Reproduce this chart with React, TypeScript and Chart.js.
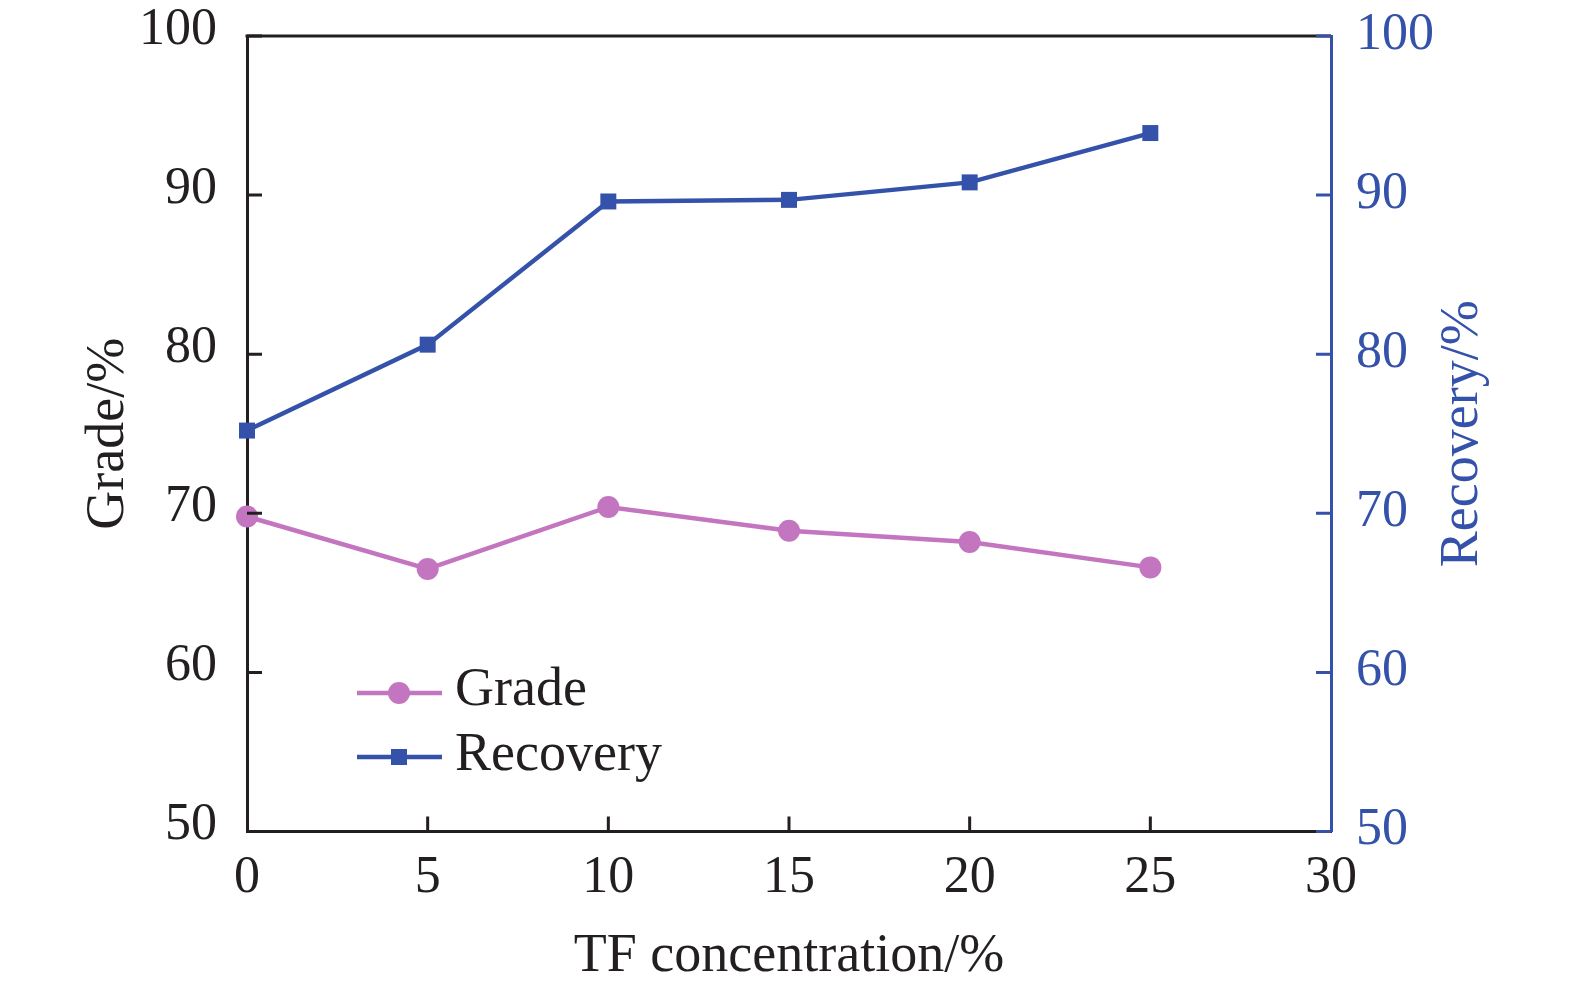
import { useEffect, useRef } from "react"
import { Chart, type ChartConfiguration, type Plugin, registerables } from "chart.js"

Chart.register(...registerables)

const concentration = [0, 5, 10, 15, 20, 25]
const grade = [69.8, 66.5, 70.4, 68.9, 68.2, 66.6]
const recovery = [75.2, 80.6, 89.6, 89.7, 90.8, 93.9]
const yTickValues = [50, 60, 70, 80, 90, 100]
const xTickValues = [0, 5, 10, 15, 20, 25, 30]

const FONT = "'Liberation Serif', 'Times New Roman', serif"
const INK = "#231f20"
const BLUE = "#3452a9"
const PINK = "#c375bf"

// inward ticks, top frame line, right title and the in-plot legend
const decorations: Plugin = {
  id: "decorations",
  afterDraw(chart) {
    const { ctx, chartArea } = chart
    const { left, right, top, bottom } = chartArea
    const x = chart.scales.x
    const y = chart.scales.y
    const y1 = chart.scales.y1
    const len = 15

    ctx.save()
    ctx.lineWidth = 3
    ctx.strokeStyle = INK
    ctx.beginPath()
    ctx.moveTo(left - 1.5, top)
    ctx.lineTo(right, top)
    ctx.stroke()

    ctx.beginPath()
    for (const v of xTickValues) {
      if (v === x.min || v === x.max) continue
      const px = x.getPixelForValue(v)
      ctx.moveTo(px, bottom)
      ctx.lineTo(px, bottom - len)
    }
    for (const v of yTickValues) {
      const py = y.getPixelForValue(v)
      ctx.moveTo(left, py)
      ctx.lineTo(left + len, py)
    }
    ctx.stroke()

    ctx.strokeStyle = BLUE
    ctx.beginPath()
    for (const v of yTickValues) {
      const py = y1.getPixelForValue(v)
      ctx.moveTo(right, py)
      ctx.lineTo(right - len, py)
    }
    ctx.stroke()

    // right axis title, reading bottom to top
    ctx.save()
    ctx.translate(right + 132, (top + bottom) / 2)
    ctx.rotate(-Math.PI / 2)
    ctx.fillStyle = BLUE
    ctx.font = `54px ${FONT}`
    ctx.textAlign = "center"
    ctx.textBaseline = "middle"
    ctx.fillText("Recovery/%", 0, 0)
    ctx.restore()

    // legend
    const rows = [
      { ds: chart.data.datasets[0], y: top + 657, base: top + 669 },
      { ds: chart.data.datasets[1], y: top + 721, base: top + 734 },
    ]
    for (const row of rows) {
      const color = row.ds.borderColor as string
      ctx.strokeStyle = color
      ctx.lineWidth = 4.5
      ctx.beginPath()
      ctx.moveTo(left + 110, row.y)
      ctx.lineTo(left + 195, row.y)
      ctx.stroke()
      ctx.fillStyle = color
      const cx = left + 152
      if ((row.ds as any).pointStyle === "rect") {
        ctx.fillRect(cx - 8, row.y - 8, 16, 16)
      } else {
        ctx.beginPath()
        ctx.arc(cx, row.y, 11, 0, Math.PI * 2)
        ctx.fill()
      }
      ctx.fillStyle = INK
      ctx.font = `54px ${FONT}`
      ctx.textAlign = "left"
      ctx.textBaseline = "alphabetic"
      ctx.fillText(row.ds.label as string, left + 208, row.base)
    }
    ctx.restore()
  },
}

function GradeRecoveryChart() {
  const chartRef = useRef<HTMLCanvasElement>(null)
  const chartInstance = useRef<Chart | null>(null)

  useEffect(() => {
    document.body.style.margin = "0"
    if (!chartRef.current) return
    const ctx = chartRef.current.getContext("2d")
    if (!ctx) return
    if (chartInstance.current) chartInstance.current.destroy()

    const noEdgePadding = (scale: any) => {
      scale.paddingTop = 0
      scale.paddingBottom = 0
      scale.paddingLeft = 0
      scale.paddingRight = 0
    }

    const config: ChartConfiguration = {
      type: "line",
      data: {
        datasets: [
          {
            label: "Grade",
            data: concentration.map((c, i) => ({ x: c, y: grade[i] })),
            yAxisID: "y",
            borderColor: PINK,
            backgroundColor: PINK,
            borderWidth: 4.5,
            pointStyle: "circle",
            pointRadius: 11,
            pointBorderWidth: 0,
            tension: 0,
            clip: false,
          },
          {
            label: "Recovery",
            data: concentration.map((c, i) => ({ x: c, y: recovery[i] })),
            yAxisID: "y1",
            borderColor: BLUE,
            backgroundColor: BLUE,
            borderWidth: 4.5,
            pointStyle: "rect",
            pointRadius: 11.3,
            pointBorderWidth: 0,
            tension: 0,
            clip: false,
          },
        ],
      },
      options: {
        responsive: true,
        maintainAspectRatio: false,
        animation: false,
        layout: { padding: { top: 36, left: 0, right: 0, bottom: 0 } },
        plugins: {
          legend: { display: false },
          tooltip: { enabled: false },
        },
        scales: {
          x: {
            type: "linear",
            min: 0,
            max: 30,
            afterFit: (scale) => {
              scale.height = 156.5
              noEdgePadding(scale)
            },
            afterBuildTicks: (scale) => {
              scale.ticks = xTickValues.map((v) => ({ value: v }))
            },
            grid: { display: true, drawOnChartArea: false, drawTicks: false },
            border: { display: true, color: INK, width: 3 },
            ticks: {
              padding: 16,
              color: INK,
              font: { family: FONT, size: 52 },
              maxRotation: 0,
            },
            title: {
              display: true,
              text: "TF concentration/%",
              color: INK,
              font: { family: FONT, size: 54, lineHeight: 1 },
              padding: { top: 0, bottom: 4 },
            },
          },
          y: {
            type: "linear",
            position: "left",
            min: 50,
            max: 100,
            afterFit: (scale) => {
              scale.width = 247
              noEdgePadding(scale)
            },
            afterBuildTicks: (scale) => {
              scale.ticks = yTickValues.map((v) => ({ value: v }))
            },
            grid: { display: true, drawOnChartArea: false, drawTicks: false },
            border: { display: true, color: INK, width: 3 },
            ticks: {
              padding: 30,
              labelOffset: -6,
              color: INK,
              font: { family: FONT, size: 52 },
            },
            title: {
              display: true,
              text: "Grade/%",
              color: INK,
              font: { family: FONT, size: 54 },
              padding: { top: 76, bottom: 0 },
            },
          },
          y1: {
            type: "linear",
            position: "right",
            min: 50,
            max: 100,
            afterFit: (scale) => {
              scale.width = 244
              noEdgePadding(scale)
            },
            afterBuildTicks: (scale) => {
              scale.ticks = yTickValues.map((v) => ({ value: v }))
            },
            grid: { display: true, drawOnChartArea: false, drawTicks: false },
            border: { display: true, color: BLUE, width: 3 },
            ticks: {
              padding: 25,
              labelOffset: -1,
              color: BLUE,
              font: { family: FONT, size: 52 },
            },
            title: { display: false },
          },
        },
      },
      plugins: [decorations],
    }

    chartInstance.current = new Chart(ctx, config)

    return () => {
      if (chartInstance.current) {
        chartInstance.current.destroy()
        chartInstance.current = null
      }
    }
  }, [])

  return (
    <div style={{ position: "relative", width: 1575, height: 988, background: "#fff" }}>
      <canvas ref={chartRef} />
    </div>
  )
}

export default function App() {
  return <GradeRecoveryChart />
}
